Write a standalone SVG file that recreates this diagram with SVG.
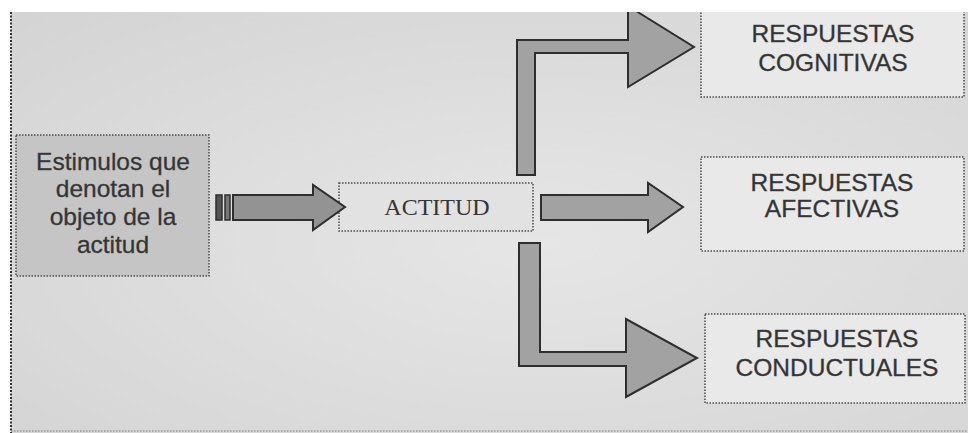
<svg xmlns="http://www.w3.org/2000/svg" width="968" height="433" viewBox="0 0 968 433">
<style>
.box{stroke:#4a4a4a;stroke-width:1.5;stroke-dasharray:1.5 1.5}
.sans{font-family:"Liberation Sans",Arial,sans-serif;fill:#333333;stroke:#444;stroke-width:0.35;text-anchor:middle;font-size:24.5px}
.serif{font-family:"Liberation Serif","Times New Roman",serif;fill:#353535;text-anchor:middle}
.arr{fill:#a2a2a2;stroke:#2e2e2e;stroke-width:2;stroke-linejoin:miter}
</style>
<defs>
<radialGradient id="bg" cx="0.55" cy="0.55" r="0.8">
<stop offset="0" stop-color="#e6e6e6"/>
<stop offset="1" stop-color="#d3d3d3"/>
</radialGradient>
</defs>
<rect x="0" y="0" width="968" height="433" fill="#ffffff"/>
<rect x="11" y="12" width="957" height="421" fill="url(#bg)"/>
<line x1="11" y1="12" x2="11" y2="433" stroke="#333" stroke-width="2" stroke-dasharray="2 1.5"/>
<line x1="11" y1="431" x2="968" y2="431" stroke="#777" stroke-width="1" stroke-dasharray="1.5 1.5"/>

<g id="estimulos">
<rect class="box" x="16" y="135" width="193" height="141" fill="#c5c5c5"/>
<text class="sans" x="113" y="170">Estimulos que</text>
<text class="sans" x="113" y="197">denotan el</text>
<text class="sans" x="113" y="225">objeto de la</text>
<text class="sans" x="113" y="253">actitud</text>
</g>

<g id="actitud">
<rect class="box" x="339" y="183" width="194" height="48" fill="#e2e2e2"/>
<text class="serif" font-size="24" x="437" y="215">ACTITUD</text>
</g>

<g id="cognitivas">
<rect class="box" x="701" y="4" width="263" height="93" fill="#e9e9e9"/>
<text class="sans" x="833" y="42">RESPUESTAS</text>
<text class="sans" x="833" y="71">COGNITIVAS</text>
</g>

<g id="afectivas">
<rect class="box" x="701" y="157" width="263" height="94" fill="#e9e9e9"/>
<text class="sans" x="832" y="191">RESPUESTAS</text>
<text class="sans" x="832" y="217">AFECTIVAS</text>
</g>

<g id="conductuales">
<rect class="box" x="705" y="314" width="260" height="89" fill="#e9e9e9"/>
<text class="sans" x="837" y="347">RESPUESTAS</text>
<text class="sans" x="837" y="376">CONDUCTUALES</text>
</g>

<g id="connectors">
<rect x="216" y="195" width="6" height="25" fill="#555" stroke="#2e2e2e" stroke-width="1.5"/>
<rect x="225" y="195" width="5" height="25" fill="#777" stroke="#2e2e2e" stroke-width="1.5"/>
<polygon class="arr" points="233,195 313,195 313,185 345,207 313,230 313,220 233,220" style="fill:#939393"/>
<polygon class="arr" points="517,175 517,40 628,40 628,6 694,47 628,87 628,53 535,53 535,175"/>
<polygon class="arr" points="541,195 648,195 648,183 683,207 648,232 648,220 541,220"/>
<polygon class="arr" points="519,243 540,243 540,352 626,352 626,319 697,358 626,397 626,366 519,366"/>
</g>

<rect x="0" y="0" width="968" height="12" fill="#ffffff"/>
</svg>
